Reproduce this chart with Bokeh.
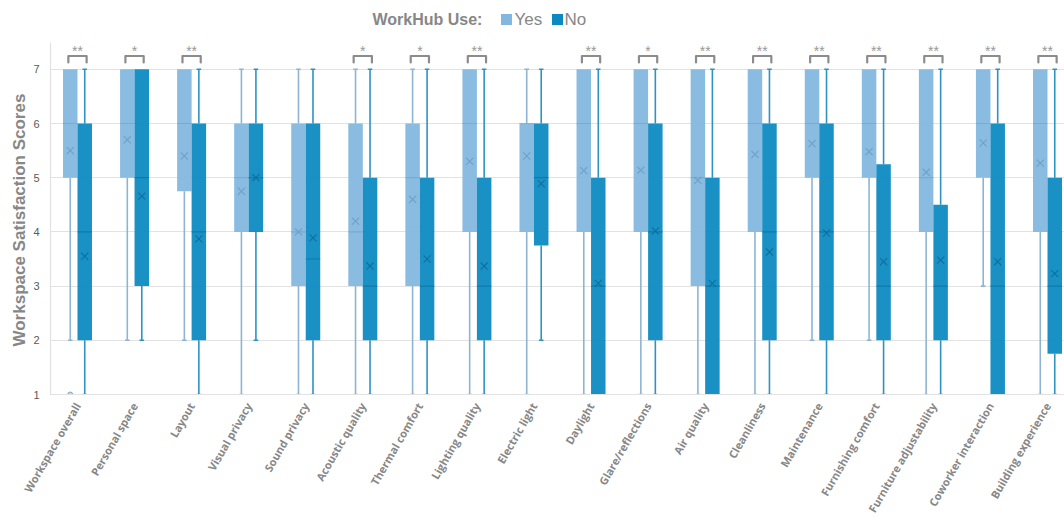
import math

from bokeh.core.properties import value
from bokeh.embed import file_html
from bokeh.models import ColumnDataSource, FixedTicker, Range1d, Title
from bokeh.plotting import figure
from bokeh.resources import INLINE

# ---- data -----------------------------------------------------------------
categories = [
    "Workspace overall", "Personal space", "Layout", "Visual privacy",
    "Sound privacy", "Acoustic quality", "Thermal comfort", "Lighting quality",
    "Electric light", "Daylight", "Glare/reflections", "Air quality",
    "Cleanliness", "Maintenance", "Furnishing comfort",
    "Furniture adjustability", "Coworker interaction", "Building experience",
]

# WorkHub users ("Yes")
yes_low = [2, 2, 2, 1, 1, 1, 1, 1, 1, 1, 1, 1, 1, 2, 2, 1, 3, 1]
yes_q1 = [5, 5, 4.75, 4, 3, 3, 3, 4, 4, 4, 4, 3, 4, 5, 5, 4, 5, 4]
yes_median = [6, 6, 6, 5, 4, 4, 5, 6, 6, 6, 6, 5, 6, 6, 6, 5, 6, 6]
yes_q3 = [7, 7, 7, 6, 6, 6, 6, 7, 6, 7, 7, 7, 7, 7, 7, 7, 7, 7]
yes_high = [7, 7, 7, 7, 7, 7, 7, 7, 7, 7, 7, 7, 7, 7, 7, 7, 7, 7]
yes_mean = [5.50, 5.70, 5.40, 4.75, 4.00, 4.20, 4.60, 5.30, 5.40, 5.13,
            5.14, 4.95, 5.43, 5.63, 5.48, 5.10, 5.64, 5.27]
yes_outlier_cat = [0]
yes_outlier_val = [1]

# Non-users ("No")
no_low = [1, 2, 1, 2, 1, 1, 1, 1, 2, 1, 1, 1, 1, 1, 1, 1, 1, 1]
no_q1 = [2, 3, 2, 4, 2, 2, 2, 2, 3.75, 1, 2, 1, 2, 2, 2, 2, 1, 1.75]
no_median = [4, 5, 4, 5, 3.5, 3, 3, 3, 5, 3, 4, 3, 4, 4, 3, 3, 3, 3]
no_q3 = [6, 7, 6, 6, 6, 5, 5, 5, 6, 5, 6, 5, 6, 6, 5.25, 4.5, 6, 5]
no_high = [7, 7, 7, 7, 7, 7, 7, 7, 7, 7, 7, 7, 7, 7, 7, 7, 7, 7]
no_mean = [3.55, 4.66, 3.87, 5.00, 3.89, 3.37, 3.50, 3.37, 4.89, 3.05,
           4.02, 3.05, 3.63, 3.98, 3.45, 3.48, 3.45, 3.23]

# significance of the Yes/No difference
significance = ["**", "*", "**", "", "", "*", "*", "**", "", "**",
                "*", "**", "**", "**", "**", "**", "**", "**"]

y_ticks = [1, 2, 3, 4, 5, 6, 7]

# ---- layout ---------------------------------------------------------------
W, H = 1064, 522
LEFT, BOTTOM = 50, 128
FRAME_W, FRAME_H = W - LEFT, H - BOTTOM
PX_PER_CAT = 57.06
PX_PER_PT = 54.2
X0 = -0.473
X1 = X0 + FRAME_W / PX_PER_CAT
Y0 = 1.0
Y1 = Y0 + FRAME_H / PX_PER_PT
Y_AXIS_TOP = 7.5


def sx(px):
    """canvas x pixel -> data x"""
    return X0 + (px - LEFT) / PX_PER_CAT


def sy(py):
    """canvas y pixel -> data y"""
    return Y0 + (FRAME_H - py) / PX_PER_PT


BOX_W = 0.254
OFF = BOX_W / 2
CAP = 0.08

YES_FILL, NO_FILL = "#83B7DF", "#0C8AC0"
YES_WHISK, NO_WHISK = "#8DB5D2", "#2F93C2"
YES_MED, NO_MED = "#72A5CD", "#0A72A3"
YES_MEAN, NO_MEAN = "#6A9BC4", "#0A6A99"
GRID = "#E2E2E2"
TEXT_GREY = "#878787"

p = figure(
    width=W, height=H,
    x_range=Range1d(X0, X1), y_range=Range1d(Y0, Y1),
    output_backend="svg", toolbar_location=None,
    min_border_left=LEFT, min_border_right=0,
    min_border_top=0, min_border_bottom=BOTTOM,
)
p.outline_line_color = None
p.background_fill_color = "white"

# grid
p.xgrid.visible = False
p.ygrid.ticker = FixedTicker(ticks=y_ticks)
p.ygrid.grid_line_color = GRID
p.ygrid.grid_line_width = 1.2

# y axis
p.yaxis.ticker = FixedTicker(ticks=y_ticks)
p.yaxis.bounds = (1, Y_AXIS_TOP)
p.yaxis.axis_line_color = GRID
p.yaxis.axis_line_width = 1.2
p.yaxis.major_tick_line_color = None
p.yaxis.minor_tick_line_color = None
p.yaxis.major_label_text_font = "Liberation Sans"
p.yaxis.major_label_text_font_size = "11px"
p.yaxis.major_label_text_color = "#595959"
p.yaxis.major_label_standoff = 5

# axis title; starts just above the frame bottom so that it sits centred
# on the drawn part of the axis (1 .. 7.5)
p.add_layout(Title(
    text="Workspace Satisfaction Scores", align="left", offset=48,
    standoff=4, text_font="Liberation Sans", text_font_style="bold",
    text_font_size="17px", text_color=TEXT_GREY,
), "left")

# x axis
p.xaxis.ticker = FixedTicker(ticks=list(range(len(categories))))
p.xaxis.major_label_overrides = {i: c for i, c in enumerate(categories)}
p.xaxis.major_label_orientation = math.pi / 3
p.xaxis.axis_line_color = GRID
p.xaxis.axis_line_width = 1.2
p.xaxis.major_tick_line_color = None
p.xaxis.minor_tick_line_color = None
p.xaxis.major_label_text_font = "Open Sans"
p.xaxis.major_label_text_font_style = "bold"
p.xaxis.major_label_text_font_size = "11px"
p.xaxis.major_label_text_color = TEXT_GREY
p.xaxis.major_label_standoff = 3


def draw_group(offset, low, q1, med, q3, high, mean, fill, whisk, med_col, mean_col):
    xs = [i + offset for i in range(len(categories))]
    # whiskers
    wx0, wy0, wx1, wy1 = [], [], [], []
    cx0, cy, cx1 = [], [], []
    for x, lo, a, b, hi in zip(xs, low, q1, q3, high):
        if lo < a:
            wx0.append(x); wy0.append(lo); wx1.append(x); wy1.append(a)
            cx0.append(x - CAP / 2); cx1.append(x + CAP / 2); cy.append(lo)
        if hi > b:
            wx0.append(x); wy0.append(b); wx1.append(x); wy1.append(hi)
            cx0.append(x - CAP / 2); cx1.append(x + CAP / 2); cy.append(hi)
    p.segment(wx0, wy0, wx1, wy1, line_color=whisk, line_width=1.6)
    p.segment(cx0, cy, cx1, cy, line_color=whisk, line_width=1.6)
    # boxes
    src = ColumnDataSource(dict(x=xs, bottom=q1, top=q3, med=med, mean=mean))
    p.vbar(x="x", bottom="bottom", top="top", width=BOX_W, source=src,
           fill_color=fill, fill_alpha=0.94, line_color=None)
    p.segment(x0=[x - OFF for x in xs], y0=med, x1=[x + OFF for x in xs], y1=med,
              line_color=med_col, line_width=1.2, line_alpha=0.7)
    p.scatter(x="x", y="mean", source=src, marker="x", size=10,
              line_color=mean_col, line_width=1.1, line_alpha=0.85)


draw_group(-OFF, yes_low, yes_q1, yes_median, yes_q3, yes_high, yes_mean,
           YES_FILL, YES_WHISK, YES_MED, YES_MEAN)
draw_group(+OFF, no_low, no_q1, no_median, no_q3, no_high, no_mean,
           NO_FILL, NO_WHISK, NO_MED, NO_MEAN)

# outliers
p.scatter([c - OFF for c in yes_outlier_cat], yes_outlier_val, marker="circle",
          size=5, fill_color="#B9D5EA", line_color="#7FA8CB", line_width=1)

# significance brackets and stars
b_x, b_y, s_x, s_t = [], [], [], []
leg_y, top_y = sy(62), sy(55.5)
for i, s in enumerate(significance):
    if not s:
        continue
    b_x.append([i - 0.16, i - 0.16, i + 0.16, i + 0.16])
    b_y.append([leg_y, top_y, top_y, leg_y])
    s_x.append(i)
    s_t.append(s)
p.multi_line(b_x, b_y, line_color="#8C8C8C", line_width=2.2,
             line_join="round", line_cap="round")
p.text(s_x, [sy(50)] * len(s_x), text=s_t, text_align="center",
       text_baseline="middle", text_font=value("Liberation Sans"),
       text_font_size="14px", text_color="#999999")

# legend
ly = sy(19)
p.text([sx(372)], [ly], text=["WorkHub Use:"], text_align="left",
       text_baseline="middle", text_font=value("Liberation Sans"),
       text_font_style="bold", text_font_size="16px", text_color=TEXT_GREY)
p.scatter([sx(506), sx(557)], [ly, ly], marker="square", size=11,
          fill_color=[YES_FILL, NO_FILL], line_color=None)
p.text([sx(514), sx(564)], [ly, ly], text=["Yes", "No"], text_align="left",
       text_baseline="middle", text_font=value("Liberation Sans"),
       text_font_size="17px", text_color=TEXT_GREY)

open("out.html", "w").write(file_html(p, INLINE))
